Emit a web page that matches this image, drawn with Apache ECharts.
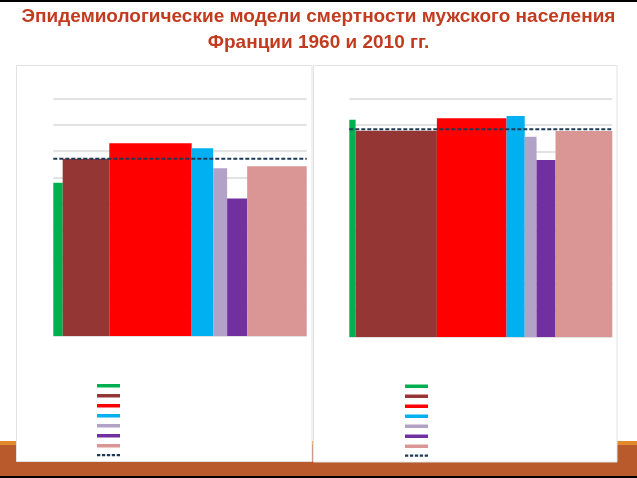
<!DOCTYPE html>
<html>
<head>
<meta charset="utf-8">
<script src="https://cdn.jsdelivr.net/npm/echarts@6/dist/echarts.min.js"></script>
<style>
html,body{margin:0;padding:0;background:#fff;}
#chart{width:637px;height:478px;}
</style>
</head>
<body>
<div id="chart"></div>
<script>
// ---- data ----
const causes = ['Инфекционные болезни', 'Новообразования', 'Болезни системы кровообращения',
  'Болезни органов дыхания', 'Болезни органов пищеварения', 'Внешние причины', 'Прочие причины'];
const avgName = 'Все причины';
// share of deaths (%) -> bar width
const shares1960 = [3.7, 18.4, 32.5, 8.5, 5.5, 7.9, 23.5];
const shares2010 = [2.4, 30.9, 26.5, 6.9, 4.5, 7.2, 21.6];
// mean age at death (years) -> bar height
const ages1960 = [58.0, 67.1, 73.0, 71.1, 63.5, 52.1, 64.3];
const ages2010 = [81.9, 77.8, 82.5, 83.3, 75.5, 66.7, 77.7];
const avg1960 = 67.1;
const avg2010 = 78.3;
const titleLines = ['Эпидемиологические модели смертности мужского населения', 'Франции 1960 и 2010 гг.'];

// ---- styles ----
const colors = ['#00B050', '#943634', '#FF0000', '#00B0F0', '#B2A2C7', '#7030A0', '#D99694'];
const dashColor = '#1F3A55';
const dashIcon = 'path://M0,0h3v2h-3zM4.5,0h3v2h-3zM9,0h3v2h-3zM13.5,0h3v2h-3zM18,0h3v2h-3z';

function renderBar(params, api) {
  const s = api.value(0), e = api.value(1), h = api.value(2);
  const p0 = api.coord([s, h]);
  const p1 = api.coord([e, 0]);
  return {
    type: 'rect',
    shape: { x: p0[0], y: p0[1], width: p1[0] - p0[0], height: p1[1] - p0[1] },
    style: api.style()
  };
}

function panelSeries(shares, ages, avg, idx) {
  const out = [];
  let acc = 0;
  shares.forEach((w, i) => {
    out.push({
      type: 'custom', name: causes[i], xAxisIndex: idx, yAxisIndex: idx,
      renderItem: renderBar, itemStyle: { color: colors[i] },
      encode: { x: [0, 1], y: 2 }, z: 2,
      data: [[acc, acc + w, ages[i]]]
    });
    acc += w;
  });
  out.push({
    type: 'line', name: avgName, xAxisIndex: idx, yAxisIndex: idx,
    symbol: 'none', showSymbol: false, z: 4,
    itemStyle: { color: dashColor },
    lineStyle: { color: dashColor, width: 2, type: [4, 2] },
    data: [[0, avg], [acc, avg]]
  });
  return out;
}

const yAxisBase = {
  type: 'value', min: 0, max: 90, interval: 10,
  axisLabel: { show: false }, axisLine: { show: false }, axisTick: { show: false },
  splitLine: { lineStyle: { color: '#D9D9D9', width: 1.5 } }
};
const xAxisBase = {
  type: 'value', min: 0, max: 100,
  axisLabel: { show: false }, axisLine: { show: false }, axisTick: { show: false },
  splitLine: { show: false }
};

const legendData = causes.map(n => ({ name: n, icon: 'rect' }))
  .concat([{ name: avgName, icon: dashIcon, itemStyle: { color: dashColor } }]);
const legendBase = {
  orient: 'vertical', itemWidth: 23, itemHeight: 3.5, itemGap: 6.5, padding: 0,
  formatter: () => '', textStyle: { fontSize: 1, lineHeight: 1 },
  data: legendData, selectedMode: false
};

const titleStyle = { color: '#C23B1E', fontSize: 19, fontWeight: 'bold', fontFamily: 'Liberation Sans, Arial, sans-serif' };

const chart = echarts.init(document.getElementById('chart'), null, { renderer: 'canvas' });
chart.setOption({
  animation: false,
  backgroundColor: '#ffffff',
  title: [
    { text: titleLines[0], left: 'center', top: 7, padding: 0, textStyle: titleStyle },
    { text: titleLines[1], left: 'center', top: 33, padding: 0, textStyle: titleStyle }
  ],
  graphic: {
    elements: [
      { type: 'rect', z: -10, shape: { x: 0, y: 0, width: 637, height: 2 }, style: { fill: '#000' } },
      { type: 'rect', z: -10, shape: { x: 0, y: 441, width: 637, height: 4 }, style: { fill: '#E38B2C' } },
      { type: 'rect', z: -10, shape: { x: 0, y: 445, width: 637, height: 31 }, style: { fill: '#B95A2C' } },
      { type: 'rect', z: -10, shape: { x: 0, y: 476, width: 637, height: 2 }, style: { fill: '#000' } },
      { type: 'rect', z: -9, shape: { x: 16.5, y: 65.5, width: 295.5, height: 396 }, style: { fill: '#fff', stroke: '#E2E2E2', lineWidth: 1 } },
      { type: 'rect', z: -9, shape: { x: 313.5, y: 65.5, width: 303.5, height: 396.5 }, style: { fill: '#fff', stroke: '#E2E2E2', lineWidth: 1 } }
    ]
  },
  grid: [
    { left: 53.3, top: 98.3, width: 253.4, height: 237.7 },
    { left: 349.3, top: 98.3, width: 263, height: 238.7 }
  ],
  xAxis: [Object.assign({ gridIndex: 0 }, xAxisBase), Object.assign({ gridIndex: 1 }, xAxisBase)],
  yAxis: [Object.assign({ gridIndex: 0 }, yAxisBase), Object.assign({ gridIndex: 1 }, yAxisBase)],
  legend: [
    Object.assign({ left: 97, top: 384 }, legendBase),
    Object.assign({ left: 405, top: 384.5 }, legendBase)
  ],
  series: panelSeries(shares1960, ages1960, avg1960, 0).concat(panelSeries(shares2010, ages2010, avg2010, 1))
});
</script>
</body>
</html>
